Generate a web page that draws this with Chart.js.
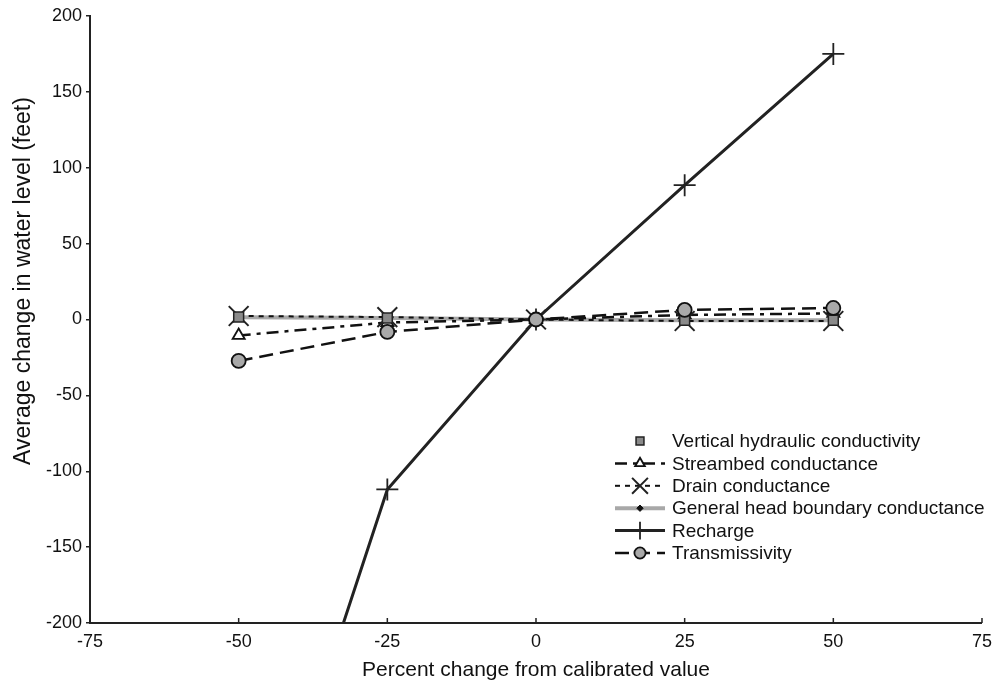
<!DOCTYPE html>
<html><head><meta charset="utf-8">
<script src="https://cdn.jsdelivr.net/npm/chart.js@4"></script>
<style>html,body{margin:0;padding:0;background:#fff}#wrap{position:relative;width:992px;height:683px}</style>
</head><body><div id="wrap"><canvas id="c" width="992" height="683"></canvas></div>
<script>
const percentChange = [-50, -25, 0, 25, 50];
const verticalHydraulic = [1.6, 1, 0, -0.5, -0.5];
const streambed = [-10.5, -2, 0, 3, 4];
const drain = [2.3, 1.6, 0, -1, -1];
const generalHead = [1.5, 1, 0, -0.5, -0.5];
const recharge = [-410, -112, 0, 88.5, 175];
const transmissivity = [-27.3, -8.2, 0, 6.3, 7.6];
const xTicks = [-75, -50, -25, 0, 25, 50, 75];
const yTicks = [-200, -150, -100, -50, 0, 50, 100, 150, 200];
const seriesNames = ['Vertical hydraulic conductivity', 'Streambed conductance', 'Drain conductance',
  'General head boundary conductance', 'Recharge', 'Transmissivity'];
const xTitle = 'Percent change from calibrated value';
const yTitle = 'Average change in water level (feet)';

const FONT = '"Liberation Sans", Arial, sans-serif';
const pts = arr => percentChange.map((x, i) => ({x: x, y: arr[i]}));

const datasets = [
  {label: seriesNames[0], data: pts(verticalHydraulic), showLine: false, pointStyle: 'rect', pointRadius: 7,
   pointBackgroundColor: '#8a8a8a', pointBorderColor: '#222', pointBorderWidth: 1.5, order: 2},
  {label: seriesNames[1], data: pts(streambed), showLine: true, borderColor: '#111', borderWidth: 2.5,
   borderDash: [12, 6, 4, 6], pointStyle: 'triangle', pointRadius: 7, pointBackgroundColor: '#fff',
   pointBorderColor: '#111', pointBorderWidth: 1.8, order: 5},
  {label: seriesNames[2], data: pts(drain), showLine: true, borderColor: '#111', borderWidth: 2,
   borderDash: [5, 5], pointStyle: 'crossRot', pointRadius: 14, pointBorderColor: '#222',
   pointBorderWidth: 2, order: 4},
  {label: seriesNames[3], data: pts(generalHead), showLine: true, borderColor: '#a8a8a8', borderWidth: 4,
   pointStyle: 'rectRot', pointRadius: 4, pointBackgroundColor: '#111', pointBorderColor: '#111',
   pointBorderWidth: 1, order: 6},
  {label: seriesNames[4], data: pts(recharge), showLine: true, borderColor: '#222', borderWidth: 3,
   pointStyle: 'cross', pointRadius: 11, pointBorderColor: '#222', pointBorderWidth: 1.8, order: 3},
  {label: seriesNames[5], data: pts(transmissivity), showLine: true, borderColor: '#111', borderWidth: 2.5,
   borderDash: [14, 7], pointStyle: 'circle', pointRadius: 7, pointBackgroundColor: '#a9a9a9',
   pointBorderColor: '#111', pointBorderWidth: 1.8, order: 1}
];

const extras = {
  id: 'extras',
  afterDraw(chart) {
    const ctx = chart.ctx;
    const xs = chart.scales.x, ys = chart.scales.y;
    // inward x ticks
    ctx.save();
    ctx.strokeStyle = '#222'; ctx.lineWidth = 1.5;
    xTicks.forEach(v => {
      const px = xs.getPixelForValue(v);
      ctx.beginPath(); ctx.moveTo(px, ys.bottom); ctx.lineTo(px, ys.bottom - 5); ctx.stroke();
    });
    ctx.restore();
    // y title
    ctx.save();
    ctx.font = '23px ' + FONT; ctx.fillStyle = '#111';
    ctx.textAlign = 'center'; ctx.textBaseline = 'middle';
    ctx.translate(24, 281); ctx.rotate(-Math.PI / 2);
    ctx.fillText(yTitle, 0, 0);
    ctx.restore();
    // legend
    ctx.save();
    chart.data.datasets.forEach((ds, i) => {
      const y = 441 + i * 22.4;
      if (ds.showLine) {
        ctx.save();
        ctx.strokeStyle = ds.borderColor; ctx.lineWidth = ds.borderWidth;
        ctx.setLineDash(ds.borderDash || []);
        ctx.beginPath(); ctx.moveTo(615, y); ctx.lineTo(665, y); ctx.stroke();
        ctx.restore();
      }
      ctx.save();
      ctx.fillStyle = ds.pointBackgroundColor || '#fff';
      ctx.strokeStyle = ds.pointBorderColor; ctx.lineWidth = ds.pointBorderWidth;
      ctx.setLineDash([]);
      Chart.helpers.drawPoint(ctx, {pointStyle: ds.pointStyle, radius: ds.pointRadius * 0.8,
        rotation: 0, borderWidth: ds.pointBorderWidth}, 640, y);
      ctx.restore();
      ctx.font = '19px ' + FONT; ctx.fillStyle = '#111';
      ctx.textAlign = 'left'; ctx.textBaseline = 'middle';
      ctx.fillText(ds.label, 672, y + 1);
    });
    ctx.restore();
  }
};

new Chart(document.getElementById('c'), {
  type: 'scatter',
  data: {datasets: datasets},
  options: {
    responsive: false, devicePixelRatio: 1, animation: false,
    layout: {autoPadding: false, padding: {top: 16, right: 10, left: 0, bottom: 0}},
    plugins: {legend: {display: false}, tooltip: {enabled: false}},
    scales: {
      x: {
        type: 'linear', min: -75, max: 75,
        afterBuildTicks: s => { s.ticks = xTicks.map(v => ({value: v})); },
        afterFit: s => { s.height = 60; },
        grid: {display: true, drawOnChartArea: false, drawTicks: true, tickLength: 8, tickColor: 'rgba(0,0,0,0)'},
        border: {display: true, color: '#222', width: 2},
        ticks: {font: {family: FONT, size: 18}, color: '#111', padding: 0, maxRotation: 0},
        title: {display: true, text: xTitle, font: {family: FONT, size: 21}, color: '#111',
                padding: {top: 0, bottom: 0}}
      },
      y: {
        type: 'linear', min: -200, max: 200,
        afterBuildTicks: s => { s.ticks = yTicks.map(v => ({value: v})); },
        afterFit: s => { s.width = 90; },
        grid: {display: true, drawOnChartArea: false, drawTicks: true, tickLength: 4, color: '#222', lineWidth: 1.5},
        border: {display: true, color: '#222', width: 2},
        ticks: {font: {family: FONT, size: 18}, color: '#111', padding: 4},
        title: {display: false, text: yTitle}
      }
    }
  },
  plugins: [extras]
});
</script></body></html>
